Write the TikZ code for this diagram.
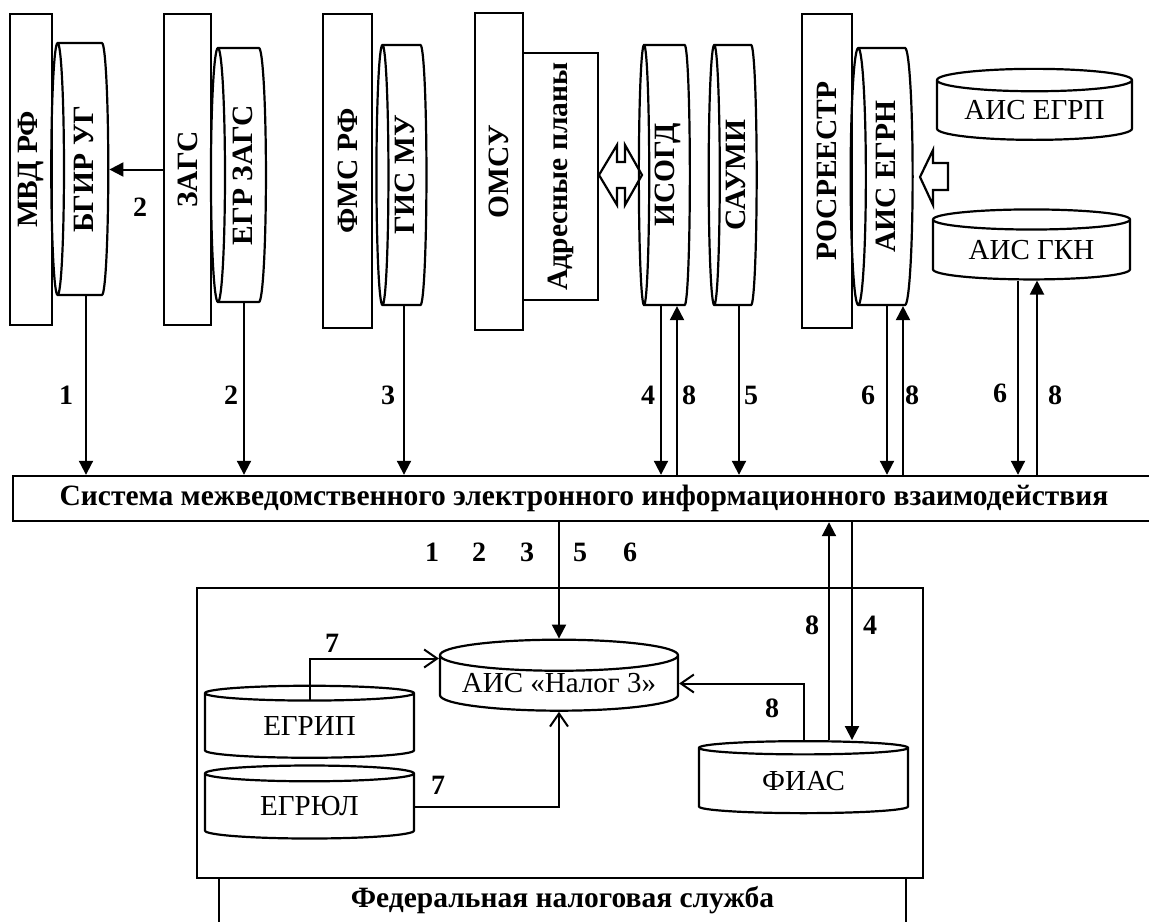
\documentclass[tikz,border=0pt]{standalone}
\usepackage{fontspec}
\setmainfont{Liberation Serif}
\usetikzlibrary{positioning}
\usetikzlibrary{arrows.meta}
\usetikzlibrary{shapes.geometric}

\newcommand{\bsize}{\fontsize{29.5}{31}\selectfont}

\begin{document}
\begin{tikzpicture}[x=1pt, y=-1pt, every node/.style={inner sep=0pt},
    vbox/.style={draw, line width=2.4pt, rotate=90, font=\bfseries\bsize},
    vcyl/.style={cylinder, shape border rotate=90, aspect=0.1, draw, line width=2.2pt, rotate=90, font=\bfseries\bsize},
    hcyl/.style={cylinder, shape border rotate=90, aspect=0.16, draw, line width=2.2pt, font=\fontsize{29}{30}\selectfont},
    num/.style={font=\bfseries\fontsize{28}{29}\selectfont},
    arr/.style={line width=2pt, -{Triangle[length=14pt, width=14pt]}},
    oarr/.style={line width=2pt, -{Straight Barb[length=13pt, width=18pt]}}]
    \useasboundingbox (0,0) rectangle (1149,922);
    \clip (0,0) rectangle (1149,922);

    \node[vbox, minimum width=311, minimum height=42] (mvd) at (31,169.5) {МВД РФ};
    \node[vcyl, minimum width=252, minimum height=57] (bgir) at (83.5,169) {БГИР УГ};
    \node[vbox, minimum width=311, minimum height=47] (zags) at (187.5,169.5) {ЗАГС};
    \node[vcyl, minimum width=254, minimum height=55] (egrzags) at (242.5,175) {ЕГР ЗАГС};
    \node[vbox, minimum width=314, minimum height=49] (fms) at (347.5,171) {ФМС РФ};
    \node[vcyl, minimum width=260, minimum height=50] (gismu) at (405,175) {ГИС МУ};
    \node[vbox, minimum width=317, minimum height=48] (omsu) at (499,171.5) {ОМСУ};
    \node[vbox, minimum width=247, minimum height=75] (adr) at (560.5,176.5) {Адресные планы};
    \node[vcyl, minimum width=260, minimum height=51] (isogd) at (667.5,175) {ИСОГД};
    \node[vcyl, minimum width=260, minimum height=48] (saumi) at (736,175) {САУМИ};
    \node[vbox, minimum width=314, minimum height=50] (rosr) at (827,171) {РОСРЕЕСТР};
    \node[vcyl, minimum width=257, minimum height=62] (egrn) at (886,176.5) {АИС ЕГРН};
    \node[hcyl, minimum width=195, minimum height=71] (egrp) at (1034.5,110.5) {АИС ЕГРП};
    \node[hcyl, minimum width=197, minimum height=70] (gkn) at (1031.5,250) {АИС ГКН};

    \node[draw, line width=2.4pt, minimum width=1142, minimum height=45, font=\bfseries\bsize] (smev) at (584,498.5) {Система межведомственного электронного информационного взаимодействия};

    \node[draw, line width=2.4pt, minimum width=726, minimum height=290] (fns) at (560,733) {};
    \node[minimum width=687, minimum height=44, font=\bfseries\bsize] (fnsname) at (562.5,900) {Федеральная налоговая служба};
    \draw[line width=2.4pt] (fnsname.north west) -- (fnsname.south west);
    \draw[line width=2.4pt] (fnsname.north east) -- (fnsname.south east);

    \node[hcyl, minimum width=238, minimum height=71] (nalog) at (559,683.5) {АИС «Налог 3»};
    \node[hcyl, minimum width=209, minimum height=72] (egrip) at (309.5,726) {ЕГРИП};
    \node[hcyl, minimum width=209, minimum height=73] (egrul) at (309.5,806.5) {ЕГРЮЛ};
    \node[hcyl, minimum width=209, minimum height=72] (fias) at (803.5,781) {ФИАС};

    \draw[line width=2.2pt] (599,175) -- (617,145) -- (617,162) -- (625,162) -- (625,145) -- (642,175)
        -- (625,205) -- (625,188) -- (617,188) -- (617,205) -- cycle;
    \draw[line width=2.2pt] (920,177) -- (933,150) -- (933,163) -- (948,163) -- (948,190) -- (933,190)
        -- (933,205) -- cycle;

    \draw[arr] (zags.north) -- (bgir.south |- zags.north);
    \node[num] (n2a) at (140,207) {2};

    \draw[arr] ([xshift=2.5pt]bgir.west) -- ([xshift=2.5pt]bgir.west |- smev.north);
    \draw[arr] ([xshift=1.5pt]egrzags.west) -- ([xshift=1.5pt]egrzags.west |- smev.north);
    \draw[arr] ([xshift=-1pt]gismu.west) -- ([xshift=-1pt]gismu.west |- smev.north);
    \draw[arr] ([xshift=-6.5pt]isogd.west) -- ([xshift=-6.5pt]isogd.west |- smev.north);
    \draw[arr] ([xshift=9.5pt]isogd.west |- smev.north) -- ([xshift=9.5pt]isogd.west);
    \draw[arr] ([xshift=3pt]saumi.west) -- ([xshift=3pt]saumi.west |- smev.north);
    \draw[arr] ([xshift=1pt]egrn.west) -- ([xshift=1pt]egrn.west |- smev.north);
    \draw[arr] ([xshift=17pt]egrn.west |- smev.north) -- ([xshift=17pt]egrn.west);
    \draw[arr] ([xshift=-13.5pt]gkn.south) -- ([xshift=-13.5pt]gkn.south |- smev.north);
    \draw[arr] ([xshift=5.5pt]gkn.south |- smev.north) -- ([xshift=5.5pt]gkn.south);

    \node[num] (l1) at (66,395) {1};
    \node[num] (l2) at (231,395) {2};
    \node[num] (l3) at (388,395) {3};
    \node[num] (l4) at (648,395) {4};
    \node[num] (l8a) at (689,395) {8};
    \node[num] (l5) at (751,395) {5};
    \node[num] (l6a) at (868,395) {6};
    \node[num] (l8b) at (912,395) {8};
    \node[num] (l6b) at (1000,393) {6};
    \node[num] (l8c) at (1055,395) {8};

    \draw[arr] (nalog.north |- smev.south) -- (nalog.north);
    \node[num] (b1) at (432,552) {1};
    \node[num] (b2) at (479,552) {2};
    \node[num] (b3) at (527,552) {3};
    \node[num] (b5) at (580,552) {5};
    \node[num] (b6) at (630,552) {6};

    \draw[arr] ([xshift=25.5pt]fias.north) -- ([xshift=25.5pt]fias.north |- smev.south);
    \draw[arr] ([xshift=48.5pt]fias.north |- smev.south) -- ([xshift=48.5pt]fias.north);
    \node[num] (f8) at (812,625) {8};
    \node[num] (f4) at (870,625) {4};

    \draw[oarr] ([xshift=0.5pt]fias.north) |- (nalog.east);
    \node[num] (f8b) at (772,708) {8};
    \draw[oarr] ([yshift=-16pt]egrip.north) |- ([yshift=25pt]nalog.west);
    \node[num] (e7a) at (332,643) {7};
    \draw[oarr] (egrul.east) -| (nalog.south);
    \node[num] (e7b) at (438,785) {7};
\end{tikzpicture}
\end{document}
